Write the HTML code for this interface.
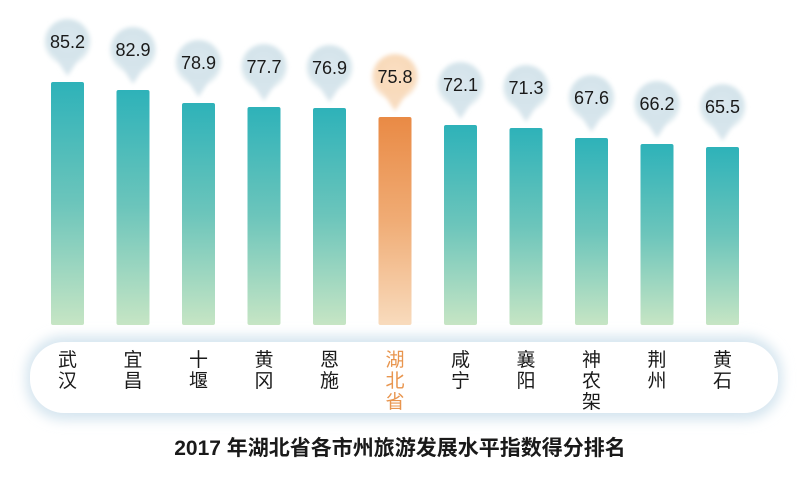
<!DOCTYPE html>
<html><head><meta charset="utf-8"><style>
html,body{margin:0;padding:0;background:#fff;width:800px;height:484px;overflow:hidden}
</style></head><body>
<svg width="800" height="484" xmlns="http://www.w3.org/2000/svg" font-family="Liberation Sans, Noto Sans CJK SC, sans-serif">
<defs>
<linearGradient id="g" x1="0" y1="0" x2="0" y2="1"><stop offset="0" stop-color="#2eb2b9"/><stop offset="0.5" stop-color="#6cc5bb"/><stop offset="1" stop-color="#c6e5c4"/></linearGradient>
<linearGradient id="o" x1="0" y1="0" x2="0" y2="1"><stop offset="0" stop-color="#e98a45"/><stop offset="0.5" stop-color="#f0ac75"/><stop offset="1" stop-color="#f8dbbd"/></linearGradient>
<radialGradient id="bb" cx="0.5" cy="0.45" r="0.55"><stop offset="0" stop-color="#dbe7ee"/><stop offset="0.75" stop-color="#d3e3ea"/><stop offset="1" stop-color="#eef5f7"/></radialGradient>
<radialGradient id="ob" cx="0.5" cy="0.45" r="0.55"><stop offset="0" stop-color="#fbe0c4"/><stop offset="0.75" stop-color="#f8d9b9"/><stop offset="1" stop-color="#fbefe2"/></radialGradient>
<filter id="bl" x="-30%" y="-30%" width="160%" height="160%"><feGaussianBlur stdDeviation="2"/></filter>
<filter id="sh" x="-10%" y="-40%" width="120%" height="180%"><feGaussianBlur stdDeviation="6"/></filter>
</defs>
<rect x="26" y="336" width="756" height="84" rx="38" fill="#d5e5ef" filter="url(#sh)"/>
<rect x="30" y="342" width="748" height="71" rx="34" fill="#fff"/>

<g fill="url(#g)">
<rect x="51" y="82" width="33" height="243" rx="2"/>
<rect x="116.5" y="90" width="33" height="235" rx="2"/>
<rect x="182" y="103" width="33" height="222" rx="2"/>
<rect x="247.5" y="107" width="33" height="218" rx="2"/>
<rect x="313" y="108" width="33" height="217" rx="2"/>
<rect x="444" y="125" width="33" height="200" rx="2"/>
<rect x="509.5" y="128" width="33" height="197" rx="2"/>
<rect x="575" y="138" width="33" height="187" rx="2"/>
<rect x="640.5" y="144" width="33" height="181" rx="2"/>
<rect x="706" y="147" width="33" height="178" rx="2"/>
</g>
<rect x="378.5" y="117" width="33" height="208" rx="2" fill="url(#o)"/>

<g filter="url(#bl)">
<g fill="url(#bb)">
<circle cx="67.5" cy="42" r="23"/><circle cx="133" cy="50" r="23"/><circle cx="198.5" cy="63" r="23"/><circle cx="264" cy="67" r="23"/><circle cx="329.5" cy="68" r="23"/><circle cx="460.5" cy="85" r="23"/><circle cx="526" cy="88" r="23"/><circle cx="591.5" cy="98" r="23"/><circle cx="657" cy="104" r="23"/><circle cx="722.5" cy="107" r="23"/>
</g>
<g fill="#d7e5ec">
<path d="M55.5 58 L67.5 76 L79.5 58Z"/><path d="M121 66 L133 84 L145 66Z"/><path d="M186.5 79 L198.5 97 L210.5 79Z"/><path d="M252 83 L264 101 L276 83Z"/><path d="M317.5 84 L329.5 102 L341.5 84Z"/><path d="M448.5 101 L460.5 119 L472.5 101Z"/><path d="M514 104 L526 122 L538 104Z"/><path d="M579.5 114 L591.5 132 L603.5 114Z"/><path d="M645 120 L657 138 L669 120Z"/><path d="M710.5 123 L722.5 141 L734.5 123Z"/>
</g>
<circle cx="395" cy="77" r="23" fill="url(#ob)"/>
<path d="M383 93 L395 111 L407 93Z" fill="#f8dcbf"/>
</g>

<g font-size="18" fill="#1a1a1a" text-anchor="middle">
<text x="67.5" y="48">85.2</text><text x="133" y="56">82.9</text><text x="198.5" y="69">78.9</text><text x="264" y="73">77.7</text><text x="329.5" y="74">76.9</text><text x="395" y="83">75.8</text><text x="460.5" y="91">72.1</text><text x="526" y="94">71.3</text><text x="591.5" y="104">67.6</text><text x="657" y="110">66.2</text><text x="722.5" y="113">65.5</text>
</g>

<g font-size="19" fill="#1a1a1a" text-anchor="middle">
<text x="67.5" y="366">武</text><text x="67.5" y="387">汉</text>
<text x="133" y="366">宜</text><text x="133" y="387">昌</text>
<text x="198.5" y="366">十</text><text x="198.5" y="387">堰</text>
<text x="264" y="366">黄</text><text x="264" y="387">冈</text>
<text x="329.5" y="366">恩</text><text x="329.5" y="387">施</text>
<text x="460.5" y="366">咸</text><text x="460.5" y="387">宁</text>
<text x="526" y="366">襄</text><text x="526" y="387">阳</text>
<text x="591.5" y="366">神</text><text x="591.5" y="387">农</text><text x="591.5" y="408">架</text>
<text x="657" y="366">荆</text><text x="657" y="387">州</text>
<text x="722.5" y="366">黄</text><text x="722.5" y="387">石</text>
</g>
<g font-size="19" fill="#e8954e" text-anchor="middle">
<text x="395" y="366">湖</text><text x="395" y="387">北</text><text x="395" y="408">省</text>
</g>

<text x="400" y="455" text-anchor="middle" font-size="21" font-weight="bold" fill="#1a1a1a">2017 年湖北省各市州旅游发展水平指数得分排名</text>
</svg>
</body></html>
